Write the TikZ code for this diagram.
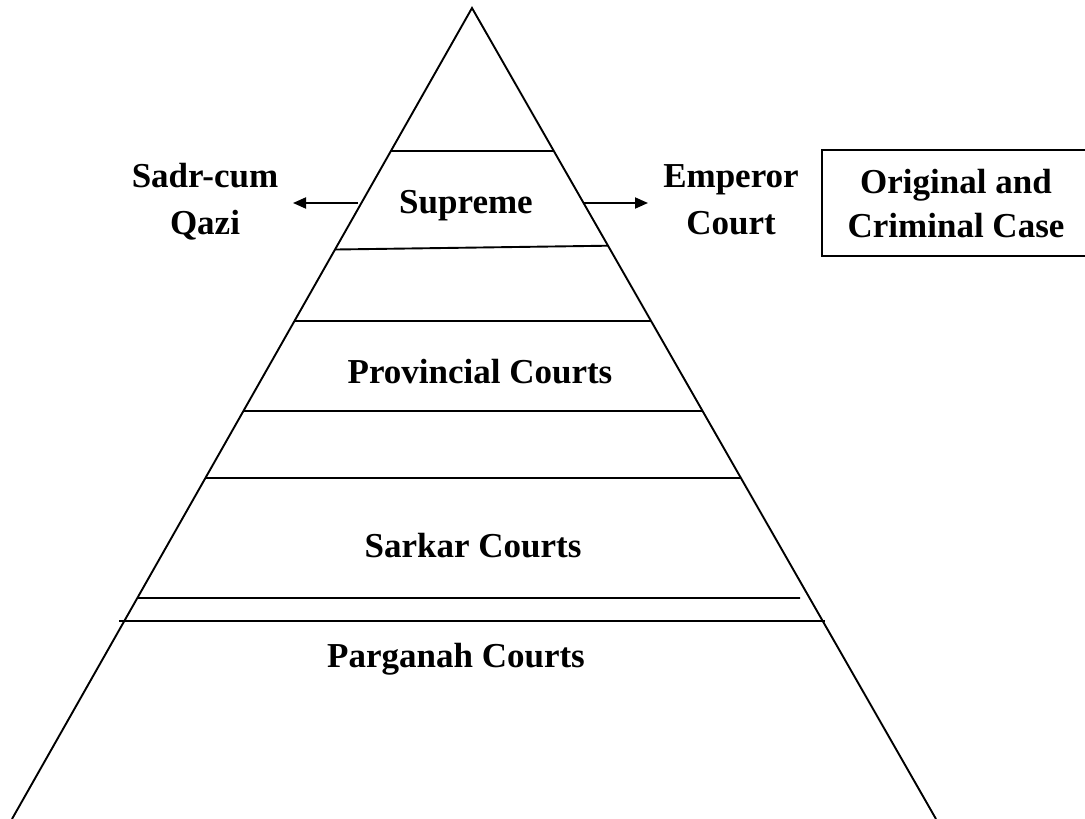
\documentclass[tikz,border=0pt]{standalone}
\usepackage{fontspec}
\setmainfont{Liberation Serif}
\usetikzlibrary{calc,arrows.meta}
\begin{document}
\begin{tikzpicture}[x=1pt,y=-1pt,
  edge/.style={line width=1.9pt,black},
  tier/.style={line width=1.9pt,black},
  arr/.style={line width=1.9pt,-{Triangle[length=13pt,width=11pt]}},
  lbl/.style={font=\fontsize{35}{47}\selectfont\bfseries,inner sep=0pt,align=center,anchor=base},
  casebox/.style={draw,line width=1.9pt}]
\useasboundingbox (0,0) rectangle (1085,819);
% pyramid outline
\coordinate (A) at (472,8);
\coordinate (BL) at (12,819);
\coordinate (BR) at (936,819);
\draw[edge,line join=miter] (BL) -- (A) -- (BR);
% tier boundaries (fractions of the way down the sides)
\coordinate (s1l) at ($(A)!0.1763!(BL)$);
\coordinate (s1r) at ($(A)!0.1763!(BR)$);
\coordinate (s2l) at ($(A)!0.2978!(BL)$);
\coordinate (s2r) at ($(A)!0.2931!(BR)$);
\coordinate (p1l) at ($(A)!0.386!(BL)$);
\coordinate (p1r) at ($(A)!0.386!(BR)$);
\coordinate (p2l) at ($(A)!0.497!(BL)$);
\coordinate (p2r) at ($(A)!0.497!(BR)$);
\coordinate (k1l) at ($(A)!0.5795!(BL)$);
\coordinate (k1r) at ($(A)!0.5795!(BR)$);
\coordinate (k2l) at ($(A)!0.7275!(BL)$);
\coordinate (k2r) at (800,598);
\coordinate (g1l) at (119,621);
\coordinate (g1r) at (825,621);
\draw[tier] (s1l) -- (s1r);
\draw[tier] (s2l) -- (s2r);
\draw[tier] (p1l) -- (p1r);
\draw[tier] (p2l) -- (p2r);
\draw[tier] (k1l) -- (k1r);
\draw[tier] (k2l) -- (k2r);
\draw[tier] (g1l) -- (g1r);
% labels (multi-line labels sit on the baseline of their last line)
\node[lbl] (supreme) at (466,213) {Supreme};
\node[lbl] (prov) at (480,383) {Provincial Courts};
\node[lbl] (sarkar) at (473,557) {Sarkar Courts};
\node[lbl] (pargana) at (456,667) {Parganah Courts};
\node[lbl] (sadr) at (205,234) {Sadr-cum\\Qazi};
\node[lbl] (emperor) at (731,234) {Emperor\\Court};
\node[lbl] (orig) at (956,237) {Original and\\[-3pt]Criminal Case};
\draw[casebox] (822,150) rectangle (1092,256);
% arrows out of the supreme tier
\coordinate (aL) at (358,203);
\coordinate (aR) at (583,203);
\coordinate (tL) at (293,203);
\coordinate (tR) at (648,203);
\draw[arr] (aL) -- (tL);
\draw[arr] (aR) -- (tR);
\end{tikzpicture}
\end{document}
